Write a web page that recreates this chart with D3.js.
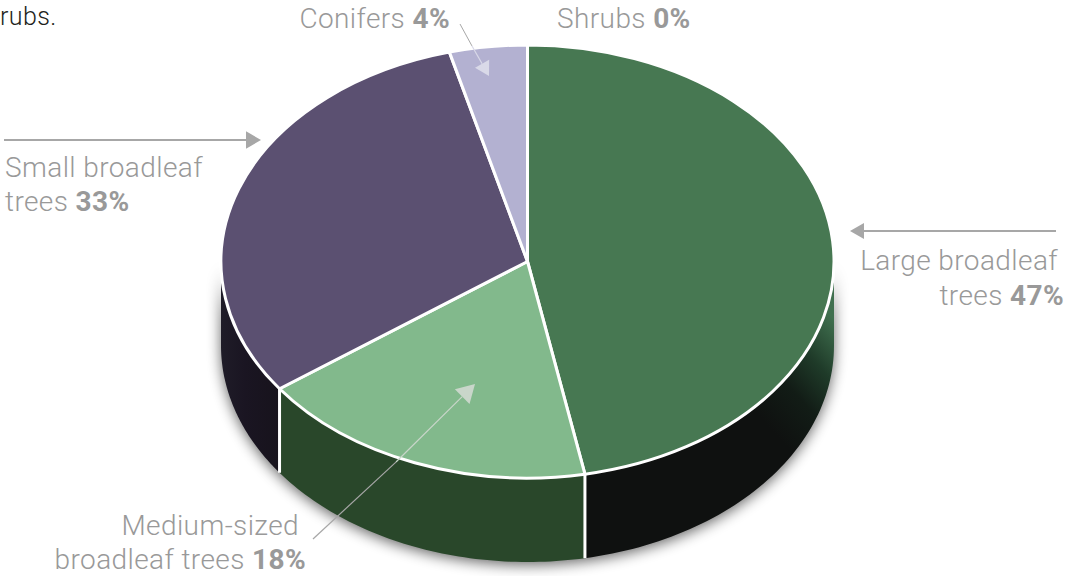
<!DOCTYPE html>
<html>
<head>
<meta charset="utf-8">
<script src="https://cdn.jsdelivr.net/npm/d3@7"></script>
<style>
  html, body { margin: 0; background: #fff; }
  svg { display: block; }
  text { font-family: Roboto, "Liberation Sans", Arial, sans-serif; font-weight: 300; font-size: 28px; fill: #999; letter-spacing: 0.4px; }
  tspan.pct { font-weight: 700; }
</style>
</head>
<body>
<svg id="chart" width="1068" height="576"></svg>
<script>
// shares as measured from the slice angles (printed labels are rounded and add to 102)
const categories = ['Large broadleaf trees', 'Medium-sized broadleaf trees', 'Small broadleaf trees', 'Conifers', 'Shrubs']
const shares = [47, 18, 30.9, 4.1, 0]
const labelPct = [47, 18, 33, 4, 0]
const topColors = ['#477852', '#82b98c', '#5b5071', '#b3b1d1', '#b3b1d1']

const svg = d3.select('#chart')
const defs = svg.append('defs')

/* ----------  GEOMETRY  ---------- */
const cx = 527.5
const cy = 261.5
const rx = 306.5
const ry = 216.5
const depth = 84

const slices = d3.pie().sort(null).value(d => d)(shares)
const arc = d3.arc().innerRadius(0).outerRadius(rx)

const rimX = t => cx + rx * Math.sin(t)
const rimY = t => cy - ry * Math.cos(t)

/* ----------  FILTER & GRADIENTS  ---------- */
const blur = defs.append('filter').attr('id', 'shadow')
  .attr('x', '-10%').attr('y', '-10%').attr('width', '120%').attr('height', '125%')
blur.append('feGaussianBlur').attr('stdDeviation', 7)

function wallGradient (id, x1, y1, x2, y2, stops) {
  const g = defs.append('linearGradient').attr('id', id)
    .attr('gradientUnits', 'userSpaceOnUse')
    .attr('x1', x1).attr('y1', y1).attr('x2', x2).attr('y2', y2)
  stops.forEach(s => g.append('stop').attr('offset', s[0]).attr('stop-color', s[1]))
}
wallGradient('wall0', 745, 400, 835, 320, [[0, '#0f1110'], [0.35, '#121c16'], [0.65, '#1f3b29'], [1, '#40704f']])
wallGradient('wall1', 280, 0, 585, 0, [[0, '#29472a'], [1, '#29472a']])
wallGradient('wall2', 221, 0, 280, 0, [[0, '#1f1c28'], [0.4, '#1a1522'], [1, '#17131c']])

/* ----------  SIDE WALL  ---------- */
function wallPath (d) {
  const a = Math.max(d.startAngle, Math.PI / 2)
  const b = Math.min(d.endAngle, Math.PI * 1.5)
  if (b <= a) return null
  const ts = d3.range(0, 61).map(i => a + (b - a) * i / 60)
  const top = ts.map(t => [rimX(t), rimY(t)])
  const bottom = ts.slice().reverse().map(t => [rimX(t), rimY(t) + depth])
  return d3.line()(top.concat(bottom)) + 'Z'
}

// soft shadow from the whole disc
const silhouette = d3.range(0, 61).map(i => Math.PI / 2 + Math.PI * i / 60)
svg.append('path')
  .attr('d', d3.line()(silhouette.map(t => [rimX(t), rimY(t) + depth + 3])
    .concat(silhouette.slice().reverse().map(t => [rimX(t), rimY(t)]))) + 'Z')
  .attr('fill', '#000')
  .attr('opacity', 0.6)
  .attr('filter', 'url(#shadow)')

svg.append('g').selectAll('path')
  .data(slices.filter(d => wallPath(d)))
  .join('path')
  .attr('d', wallPath)
  .attr('fill', d => `url(#wall${d.index})`)

// white seams running down the side
svg.append('g').selectAll('line')
  .data(slices.slice(0, 2))
  .join('line')
  .attr('x1', d => rimX(d.endAngle)).attr('x2', d => rimX(d.endAngle))
  .attr('y1', d => rimY(d.endAngle)).attr('y2', d => rimY(d.endAngle) + depth)
  .attr('stroke', '#fff')
  .attr('stroke-width', 3)

/* ----------  TOP FACE  ---------- */
svg.append('g')
  .attr('transform', `translate(${cx},${cy}) scale(1,${ry / rx})`)
  .selectAll('path')
  .data(slices.filter(d => d.value > 0))
  .join('path')
  .attr('d', arc)
  .attr('fill', d => topColors[d.index])
  .attr('stroke', '#fff')
  .attr('stroke-width', 3)
  .attr('stroke-linejoin', 'round')
  .attr('vector-effect', 'non-scaling-stroke')

/* ----------  ARROWS  ---------- */
function arrow (x1, y1, x2, y2, color, width, head) {
  const ang = Math.atan2(y2 - y1, x2 - x1)
  const bx = x2 - head * Math.cos(ang)
  const by = y2 - head * Math.sin(ang)
  const hw = head * 0.58
  svg.append('line')
    .attr('x1', x1).attr('y1', y1).attr('x2', bx).attr('y2', by)
    .attr('stroke', color).attr('stroke-width', width)
  svg.append('path')
    .attr('d', d3.line()([[x2, y2],
      [bx - hw * Math.sin(ang), by + hw * Math.cos(ang)],
      [bx + hw * Math.sin(ang), by - hw * Math.cos(ang)]]) + 'Z')
    .attr('fill', color)
}
arrow(4, 140, 261, 140, '#a7a7a7', 2, 15)
arrow(1056, 231, 850, 231, '#a7a7a7', 2, 14)
arrow(460, 24, 472, 46, '#a7a7a7', 1, 0.1)
arrow(472, 46, 489, 76, '#d9d9e8', 1.2, 14)
arrow(313, 539, 396, 462, '#a7a7a7', 1.2, 0.1)
arrow(396, 462, 475, 384, '#c9d6ca', 1.2, 18)

/* ----------  LABELS  ---------- */
function label (x, y, anchor, line) {
  const t = svg.append('text').attr('text-anchor', anchor).attr('x', x).attr('y', y)
  t.append('tspan').text(line[0])
  if (line[1]) t.append('tspan').attr('class', 'pct').text(line[1])
}
label(450, 28, 'end', ['Conifers ', labelPct[3] + '%'])
label(557, 28, 'start', ['Shrubs ', labelPct[4] + '%'])
label(5, 177, 'start', ['Small broadleaf'])
label(5, 211, 'start', ['trees ', labelPct[2] + '%'])
label(1058, 270, 'end', ['Large broadleaf'])
label(1064, 305, 'end', ['trees ', labelPct[0] + '%'])
label(299, 535, 'end', ['Medium-sized'])
label(306, 569, 'end', ['broadleaf trees ', labelPct[1] + '%'])

svg.append('text')
  .attr('x', 0).attr('y', 25)
  .style('fill', '#231f20')
  .style('font-size', '25px')
  .text('rubs.')
</script>
</body>
</html>
